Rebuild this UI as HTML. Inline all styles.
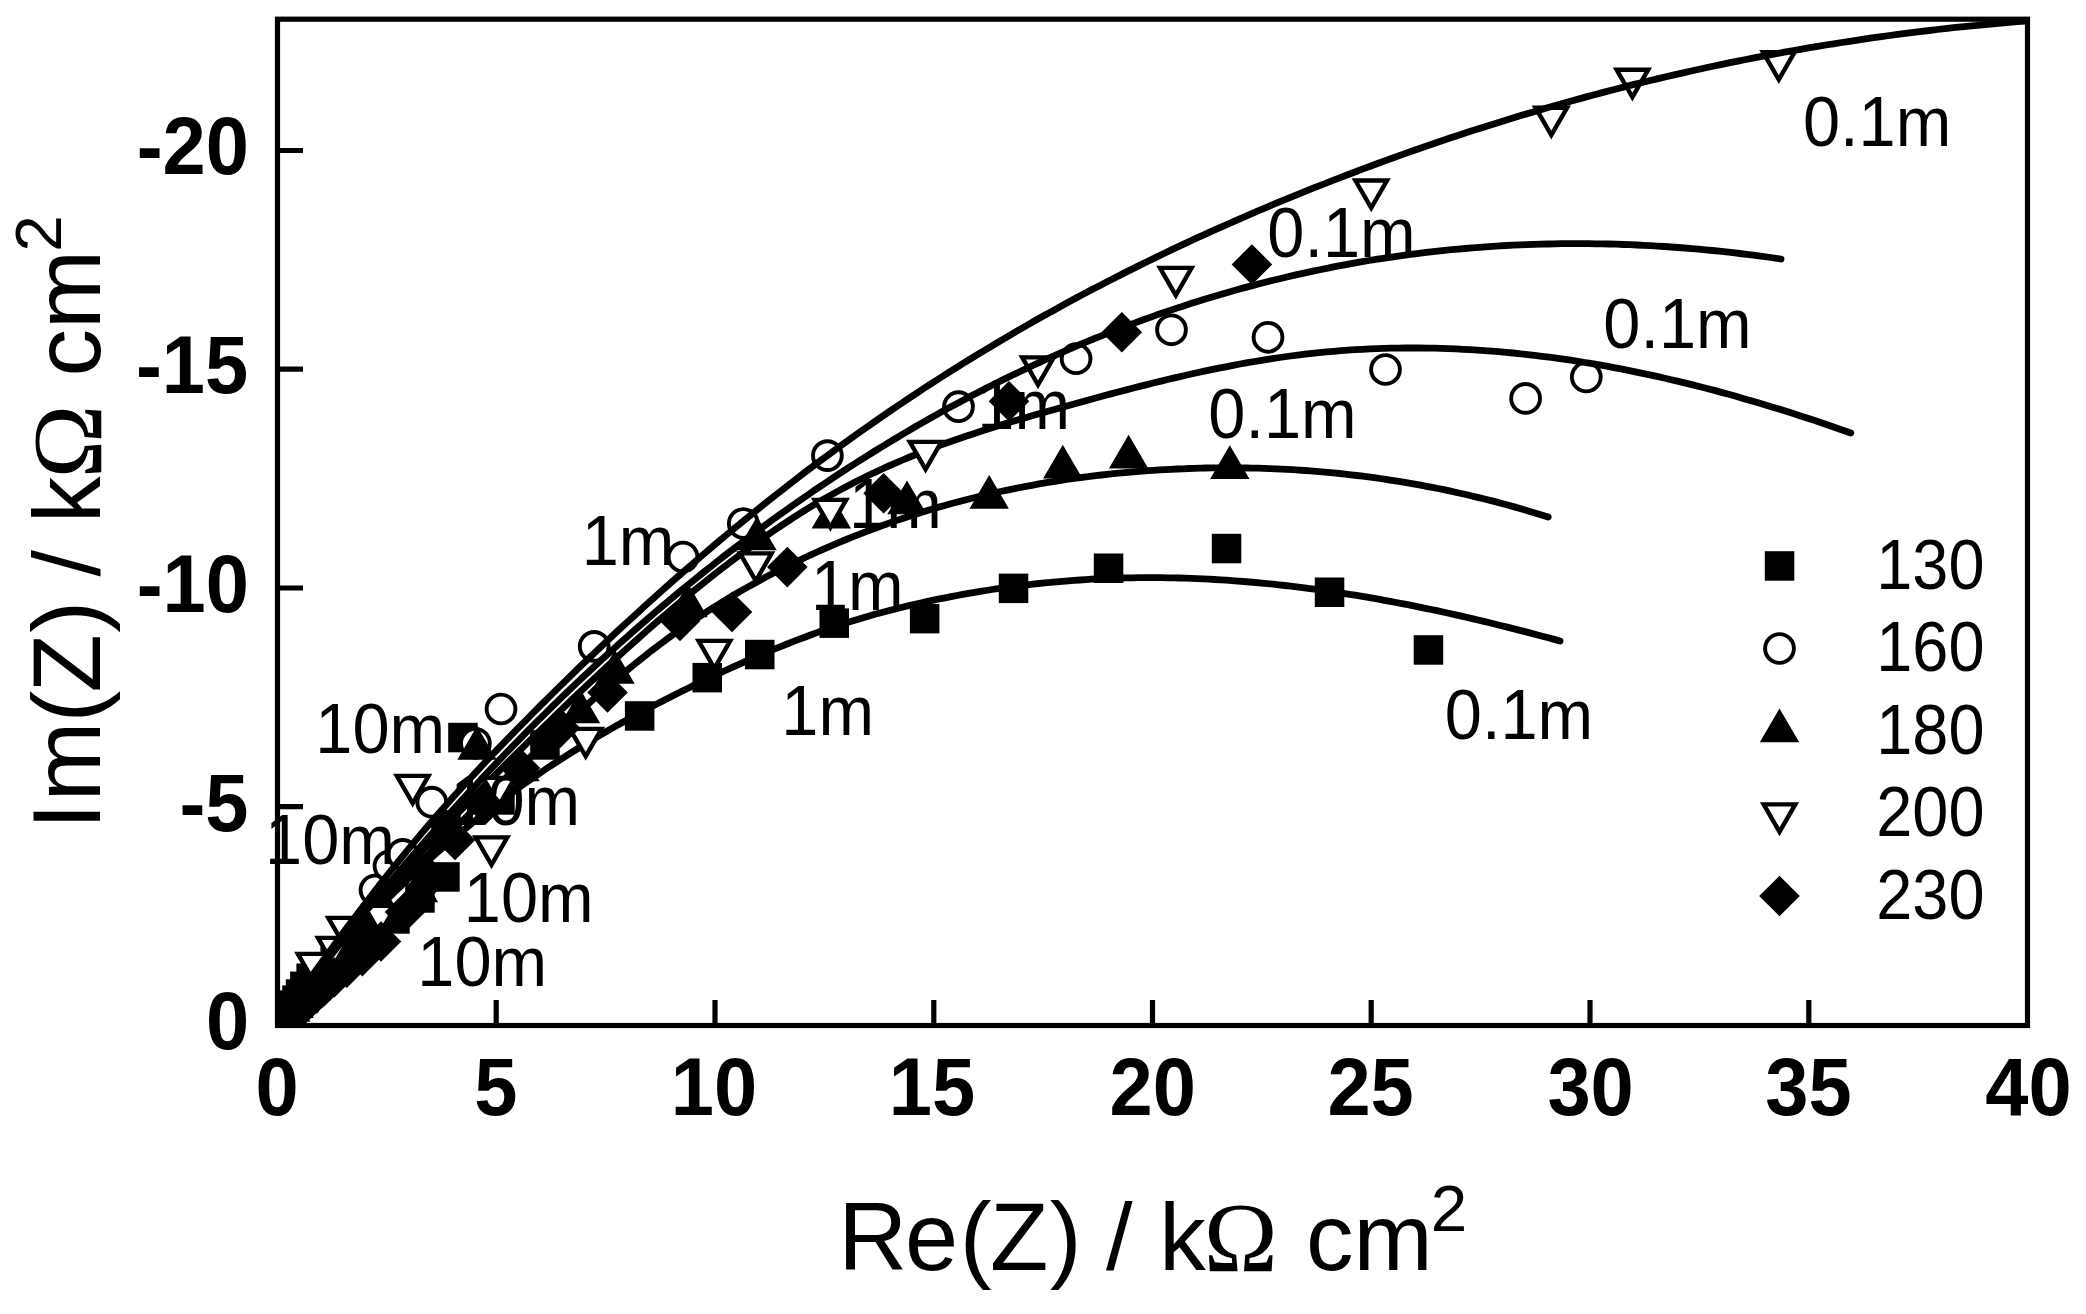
<!DOCTYPE html>
<html><head><meta charset="utf-8"><title>Nyquist plot</title>
<style>html,body{margin:0;padding:0;background:#fff;width:2086px;height:1314px;overflow:hidden}svg{display:block}text{font-family:"Liberation Sans",Arial,sans-serif;font-size:100px;fill:#000}.b{font-weight:bold}.o{font-family:"Liberation Serif","Times New Roman",serif}</style></head>
<body>
<svg width="2086" height="1314" viewBox="0 0 2086 1314">
<rect width="2086" height="1314" fill="#fff"/>
<defs><clipPath id="cp"><rect x="277.5" y="19.2" width="1750" height="1006.3"/></clipPath></defs>
<g clip-path="url(#cp)"><g fill="#000">
<rect x="263.6" y="1009.8" width="29.5" height="29.5"/><rect x="263.7" y="1009.6" width="29.5" height="29.5"/><rect x="263.9" y="1009.4" width="29.5" height="29.5"/><rect x="264.1" y="1009.1" width="29.5" height="29.5"/><rect x="264.4" y="1008.8" width="29.5" height="29.5"/><rect x="264.7" y="1008.4" width="29.5" height="29.5"/><rect x="265.1" y="1007.9" width="29.5" height="29.5"/><rect x="265.5" y="1007.3" width="29.5" height="29.5"/><rect x="266.1" y="1006.6" width="29.5" height="29.5"/><rect x="266.9" y="1005.7" width="29.5" height="29.5"/><rect x="267.7" y="1004.6" width="29.5" height="29.5"/><rect x="268.8" y="1003.3" width="29.5" height="29.5"/><rect x="270.1" y="1001.6" width="29.5" height="29.5"/><rect x="271.7" y="999.6" width="29.5" height="29.5"/><rect x="273.7" y="997.1" width="29.5" height="29.5"/><rect x="276.2" y="994.1" width="29.5" height="29.5"/><rect x="279.1" y="990.4" width="29.5" height="29.5"/><rect x="282.2" y="985.4" width="29.5" height="29.5"/><rect x="285.8" y="979.3" width="29.5" height="29.5"/><rect x="290.1" y="971.6" width="29.5" height="29.5"/><rect x="296.4" y="963.5" width="29.5" height="29.5"/><rect x="307.4" y="956.4" width="29.5" height="29.5"/><rect x="320.4" y="946.9" width="29.5" height="29.5"/><rect x="336.3" y="935.3" width="29.5" height="29.5"/><rect x="356" y="921.2" width="29.5" height="29.5"/><rect x="380.2" y="904.2" width="29.5" height="29.5"/><rect x="405.2" y="883.2" width="29.5" height="29.5"/><rect x="430.2" y="862.2" width="29.5" height="29.5"/><rect x="431.2" y="810.2" width="29.5" height="29.5"/><rect x="448.2" y="722.8" width="29.5" height="29.5"/><rect x="485.2" y="785.2" width="29.5" height="29.5"/><rect x="530.2" y="730.2" width="29.5" height="29.5"/><rect x="624.9" y="701.2" width="29.5" height="29.5"/><rect x="692.5" y="662.9" width="29.5" height="29.5"/><rect x="745" y="639.8" width="29.5" height="29.5"/><rect x="819.5" y="608.4" width="29.5" height="29.5"/><rect x="909.9" y="603.9" width="29.5" height="29.5"/><rect x="998.8" y="573.6" width="29.5" height="29.5"/><rect x="1093.8" y="553.5" width="29.5" height="29.5"/><rect x="1211.8" y="533.8" width="29.5" height="29.5"/><rect x="1314.8" y="577.5" width="29.5" height="29.5"/><rect x="1413.7" y="635.2" width="29.5" height="29.5"/>
</g>
<path d="M277.7 1025.3 L283.6 1017.7 L289.4 1010.2 L295.3 1002.7 L301.1 995.4 L307 988.2 L312.8 981.1 L318.7 974.1 L324.5 967.2 L330.4 960.4 L336.3 953.7 L342.1 947.1 L348 940.6 L353.8 934.2 L359.7 927.9 L365.5 921.7 L371.4 915.5 L377.2 909.5 L383.1 903.5 L388.9 897.6 L394.8 891.9 L400.7 886.2 L406.5 880.5 L412.4 875 L418.2 869.6 L424.1 864.2 L429.9 858.9 L435.8 853.7 L441.6 848.6 L447.5 843.5 L453.4 838.6 L459.2 833.7 L465.1 828.8 L470.9 824.1 L476.8 819.4 L482.6 814.8 L488.5 810.2 L494.3 805.7 L500.2 801.3 L506.1 797 L511.9 792.7 L517.8 788.5 L523.6 784.3 L529.5 780.2 L535.3 776.2 L541.2 772.2 L547 768.3 L552.9 764.4 L558.8 760.6 L564.6 756.9 L570.5 753.1 L576.3 749.5 L582.2 745.9 L588 742.3 L593.9 738.8 L599.7 735.4 L605.6 732 L611.4 728.6 L617.3 725.3 L623.2 722 L629 718.8 L634.9 715.6 L640.7 712.4 L646.6 709.3 L652.4 706.2 L658.3 703.2 L664.1 700.2 L670 697.2 L675.9 694.2 L681.7 691.3 L687.6 688.5 L693.4 685.6 L699.3 682.8 L705.1 680 L711 677.2 L716.8 674.5 L722.7 671.7 L728.6 669 L734.4 666.4 L740.3 663.8 L746.1 661.2 L752 658.6 L757.8 656.1 L763.7 653.6 L769.5 651.1 L775.4 648.7 L781.3 646.3 L787.1 644 L793 641.7 L798.8 639.4 L804.7 637.2 L810.5 635 L816.4 632.9 L822.2 630.8 L828.1 628.8 L833.9 626.8 L839.8 624.9 L845.7 623 L851.5 621.2 L857.4 619.4 L863.2 617.7 L869.1 616 L874.9 614.3 L880.8 612.7 L886.6 611.2 L892.5 609.7 L898.4 608.2 L904.2 606.8 L910.1 605.4 L915.9 604 L921.8 602.7 L927.6 601.4 L933.5 600.2 L939.3 598.9 L945.2 597.8 L951.1 596.6 L956.9 595.5 L962.8 594.4 L968.6 593.4 L974.5 592.4 L980.3 591.4 L986.2 590.5 L992 589.5 L997.9 588.7 L1003.8 587.8 L1009.6 587 L1015.5 586.3 L1021.3 585.5 L1027.2 584.8 L1033 584.1 L1038.9 583.5 L1044.7 582.9 L1050.6 582.3 L1056.4 581.8 L1062.3 581.3 L1068.2 580.8 L1074 580.4 L1079.9 580 L1085.7 579.6 L1091.6 579.2 L1097.4 578.9 L1103.3 578.7 L1109.1 578.4 L1115 578.2 L1120.9 578 L1126.7 577.9 L1132.6 577.8 L1138.4 577.7 L1144.3 577.7 L1150.1 577.6 L1156 577.7 L1161.8 577.7 L1167.7 577.8 L1173.6 577.9 L1179.4 578 L1185.3 578.2 L1191.1 578.4 L1197 578.6 L1202.8 578.9 L1208.7 579.2 L1214.5 579.5 L1220.4 579.9 L1226.3 580.2 L1232.1 580.6 L1238 581.1 L1243.8 581.5 L1249.7 582 L1255.5 582.5 L1261.4 583.1 L1267.2 583.6 L1273.1 584.2 L1278.9 584.9 L1284.8 585.5 L1290.7 586.2 L1296.5 586.9 L1302.4 587.6 L1308.2 588.4 L1314.1 589.1 L1319.9 589.9 L1325.8 590.8 L1331.6 591.6 L1337.5 592.5 L1343.4 593.4 L1349.2 594.3 L1355.1 595.2 L1360.9 596.2 L1366.8 597.2 L1372.6 598.2 L1378.5 599.2 L1384.3 600.3 L1390.2 601.4 L1396.1 602.5 L1401.9 603.6 L1407.8 604.7 L1413.6 605.9 L1419.5 607.1 L1425.3 608.3 L1431.2 609.5 L1437 610.7 L1442.9 612 L1448.8 613.3 L1454.6 614.6 L1460.5 615.9 L1466.3 617.2 L1472.2 618.6 L1478 620 L1483.9 621.4 L1489.7 622.8 L1495.6 624.2 L1501.4 625.7 L1507.3 627.1 L1513.2 628.6 L1519 630.1 L1524.9 631.6 L1530.7 633.1 L1536.6 634.7 L1542.4 636.2 L1548.3 637.8 L1554.1 639.4 L1560 641" fill="none" stroke="#000" stroke-width="6.8" stroke-linecap="round" stroke-linejoin="round"/></g>
<g><text class="r" transform="matrix(0.6670 0 0 0.6965 1444.8 738.5)">0.1m</text><text class="r" transform="matrix(0.6670 0 0 0.6965 781.3 735)">1m</text><text class="r" transform="matrix(0.6670 0 0 0.6965 463.8 922)">10m</text></g>
<g clip-path="url(#cp)"><g fill="#fff" stroke="#000" stroke-width="3.9">
<circle cx="278.4" cy="1024.6" r="14.4"/><circle cx="278.6" cy="1024.4" r="14.4"/><circle cx="278.9" cy="1024.1" r="14.4"/><circle cx="279.3" cy="1023.8" r="14.4"/><circle cx="279.8" cy="1023.3" r="14.4"/><circle cx="280.4" cy="1022.7" r="14.4"/><circle cx="281.3" cy="1021.9" r="14.4"/><circle cx="282.4" cy="1020.8" r="14.4"/><circle cx="283.8" cy="1019.5" r="14.4"/><circle cx="285.6" cy="1017.7" r="14.4"/><circle cx="288.1" cy="1015.4" r="14.4"/><circle cx="291.2" cy="1012.4" r="14.4"/><circle cx="295.4" cy="1008.4" r="14.4"/><circle cx="300.8" cy="1003.3" r="14.4"/><circle cx="307.9" cy="996.8" r="14.4"/><circle cx="317.3" cy="988.3" r="14.4"/><circle cx="329.4" cy="976.9" r="14.4"/><circle cx="345" cy="962" r="14.4"/><circle cx="375" cy="890" r="14.4"/><circle cx="389" cy="866" r="14.4"/><circle cx="402.8" cy="854.4" r="14.4"/><circle cx="431.8" cy="802.2" r="14.4"/><circle cx="475.4" cy="743.3" r="14.4"/><circle cx="501" cy="709" r="14.4"/><circle cx="594.2" cy="646.4" r="14.4"/><circle cx="683" cy="557" r="14.4"/><circle cx="743.3" cy="523.5" r="14.4"/><circle cx="827.4" cy="455.6" r="14.4"/><circle cx="958.5" cy="406.7" r="14.4"/><circle cx="1076.1" cy="358.7" r="14.4"/><circle cx="1171.5" cy="329.8" r="14.4"/><circle cx="1268" cy="337.3" r="14.4"/><circle cx="1385.5" cy="369.5" r="14.4"/><circle cx="1525.6" cy="398.4" r="14.4"/><circle cx="1586.3" cy="377" r="14.4"/>
</g>
<path d="M277.7 1025.3 L284.9 1015.8 L292.1 1006.4 L299.2 997.1 L306.4 987.9 L313.6 978.8 L320.8 969.8 L328 960.9 L335.2 952 L342.3 943.3 L349.5 934.6 L356.7 926 L363.9 917.5 L371.1 909.1 L378.3 900.8 L385.4 892.5 L392.6 884.3 L399.8 876.2 L407 868.2 L414.2 860.2 L421.4 852.3 L428.5 844.5 L435.7 836.8 L442.9 829.1 L450.1 821.5 L457.3 813.9 L464.5 806.4 L471.6 799 L478.8 791.6 L486 784.3 L493.2 777 L500.4 769.7 L507.6 762.5 L514.7 755.4 L521.9 748.3 L529.1 741.2 L536.3 734.1 L543.5 727.1 L550.7 720.1 L557.8 713.1 L565 706.2 L572.2 699.3 L579.4 692.5 L586.6 685.7 L593.8 679 L600.9 672.3 L608.1 665.6 L615.3 659 L622.5 652.5 L629.7 646 L636.9 639.6 L644 633.2 L651.2 626.9 L658.4 620.7 L665.6 614.5 L672.8 608.4 L680 602.3 L687.1 596.3 L694.3 590.4 L701.5 584.6 L708.7 578.9 L715.9 573.2 L723.1 567.6 L730.2 562.1 L737.4 556.7 L744.6 551.4 L751.8 546.1 L759 541 L766.2 535.9 L773.3 531 L780.5 526.1 L787.7 521.4 L794.9 516.7 L802.1 512.2 L809.2 507.7 L816.4 503.4 L823.6 499.2 L830.8 495.1 L838 491.1 L845.2 487.2 L852.3 483.5 L859.5 479.8 L866.7 476.3 L873.9 472.8 L881.1 469.5 L888.3 466.2 L895.4 463.1 L902.6 460 L909.8 457 L917 454.1 L924.2 451.3 L931.4 448.5 L938.5 445.8 L945.7 443.2 L952.9 440.7 L960.1 438.2 L967.3 435.7 L974.5 433.4 L981.6 431 L988.8 428.7 L996 426.5 L1003.2 424.3 L1010.4 422.1 L1017.6 420 L1024.7 417.9 L1031.9 415.8 L1039.1 413.7 L1046.3 411.7 L1053.5 409.7 L1060.7 407.7 L1067.8 405.7 L1075 403.7 L1082.2 401.7 L1089.4 399.7 L1096.6 397.8 L1103.8 395.8 L1110.9 393.9 L1118.1 392 L1125.3 390.1 L1132.5 388.2 L1139.7 386.4 L1146.9 384.6 L1154 382.8 L1161.2 381.1 L1168.4 379.3 L1175.6 377.6 L1182.8 376 L1190 374.3 L1197.1 372.7 L1204.3 371.2 L1211.5 369.7 L1218.7 368.2 L1225.9 366.8 L1233.1 365.4 L1240.2 364 L1247.4 362.7 L1254.6 361.5 L1261.8 360.3 L1269 359.1 L1276.2 358 L1283.3 357 L1290.5 356 L1297.7 355.1 L1304.9 354.2 L1312.1 353.4 L1319.3 352.6 L1326.4 351.9 L1333.6 351.3 L1340.8 350.7 L1348 350.2 L1355.2 349.7 L1362.3 349.3 L1369.5 348.9 L1376.7 348.6 L1383.9 348.4 L1391.1 348.2 L1398.3 348.1 L1405.4 348 L1412.6 348 L1419.8 348 L1427 348.1 L1434.2 348.2 L1441.4 348.4 L1448.5 348.6 L1455.7 348.9 L1462.9 349.3 L1470.1 349.7 L1477.3 350.1 L1484.5 350.6 L1491.6 351.1 L1498.8 351.7 L1506 352.4 L1513.2 353 L1520.4 353.8 L1527.6 354.6 L1534.7 355.4 L1541.9 356.3 L1549.1 357.2 L1556.3 358.2 L1563.5 359.2 L1570.7 360.2 L1577.8 361.4 L1585 362.5 L1592.2 363.7 L1599.4 364.9 L1606.6 366.2 L1613.8 367.6 L1620.9 368.9 L1628.1 370.3 L1635.3 371.8 L1642.5 373.3 L1649.7 374.8 L1656.9 376.4 L1664 378 L1671.2 379.7 L1678.4 381.4 L1685.6 383.1 L1692.8 384.9 L1700 386.7 L1707.1 388.5 L1714.3 390.4 L1721.5 392.4 L1728.7 394.3 L1735.9 396.3 L1743.1 398.4 L1750.2 400.4 L1757.4 402.5 L1764.6 404.7 L1771.8 406.9 L1779 409.1 L1786.2 411.3 L1793.3 413.6 L1800.5 415.9 L1807.7 418.3 L1814.9 420.6 L1822.1 423 L1829.3 425.5 L1836.4 428 L1843.6 430.5 L1850.8 433" fill="none" stroke="#000" stroke-width="6.8" stroke-linecap="round" stroke-linejoin="round"/></g>
<g><text class="r" transform="matrix(0.6670 0 0 0.6965 1603.3 348.3)">0.1m</text><text class="r" transform="matrix(0.6670 0 0 0.6965 581.7 564.6)">1m</text><text class="r" transform="matrix(0.6670 0 0 0.6965 265.1 864)">10m</text></g>
<g clip-path="url(#cp)"><g fill="#000">
<polygon points="278.4,1002.1 258.7,1035.7 298.1,1035.7"/><polygon points="278.5,1002 258.8,1035.6 298.2,1035.6"/><polygon points="278.7,1001.7 259,1035.3 298.4,1035.3"/><polygon points="279,1001.4 259.3,1035 298.7,1035"/><polygon points="279.4,1001 259.7,1034.6 299.1,1034.6"/><polygon points="279.8,1000.5 260.1,1034.1 299.5,1034.1"/><polygon points="280.3,999.9 260.6,1033.5 300,1033.5"/><polygon points="281,999.2 261.3,1032.8 300.7,1032.8"/><polygon points="281.8,998.2 262.1,1031.8 301.5,1031.8"/><polygon points="282.9,997 263.2,1030.6 302.6,1030.6"/><polygon points="284.2,995.5 264.5,1029.1 303.9,1029.1"/><polygon points="285.9,993.6 266.2,1027.2 305.6,1027.2"/><polygon points="288,991.2 268.3,1024.8 307.7,1024.8"/><polygon points="290.7,988.1 271,1021.7 310.4,1021.7"/><polygon points="294.1,984.3 274.4,1017.9 313.8,1017.9"/><polygon points="298.3,979.6 278.6,1013.2 318,1013.2"/><polygon points="303.9,973.9 284.2,1007.5 323.6,1007.5"/><polygon points="311.2,966.9 291.5,1000.5 330.9,1000.5"/><polygon points="320.4,958.2 300.7,991.8 340.1,991.8"/><polygon points="332,947.2 312.3,980.8 351.7,980.8"/><polygon points="346.6,933.5 326.9,967.1 366.3,967.1"/><polygon points="365.1,916.4 345.4,950 384.8,950"/><polygon points="388.5,895 368.8,928.6 408.2,928.6"/><polygon points="418.4,868.6 398.7,902.2 438.1,902.2"/><polygon points="440,815.6 420.3,849.2 459.7,849.2"/><polygon points="477,726.1 457.3,759.7 496.7,759.7"/><polygon points="520,747.6 500.3,781.2 539.7,781.2"/><polygon points="580.5,689.6 560.8,723.2 600.2,723.2"/><polygon points="615,650.1 595.3,683.7 634.7,683.7"/><polygon points="688,583.6 668.3,617.2 707.7,617.2"/><polygon points="757,516.6 737.3,550.2 776.7,550.2"/><polygon points="831.3,494.9 811.6,528.5 851,528.5"/><polygon points="907,480.6 887.3,514.2 926.7,514.2"/><polygon points="989.2,475.1 969.5,508.7 1008.9,508.7"/><polygon points="1062.8,444.8 1043.1,478.4 1082.5,478.4"/><polygon points="1128.6,434.8 1108.9,468.4 1148.3,468.4"/><polygon points="1229.8,445.3 1210.1,478.9 1249.5,478.9"/>
</g>
<path d="M277.7 1025.3 L283.5 1018.2 L289.3 1011.1 L295.1 1004 L300.9 997 L306.7 990 L312.5 983 L318.3 976.1 L324.1 969.3 L329.9 962.5 L335.7 955.7 L341.5 949 L347.3 942.3 L353.1 935.7 L358.9 929.1 L364.7 922.5 L370.5 916.1 L376.3 909.6 L382.1 903.3 L387.9 896.9 L393.7 890.7 L399.5 884.5 L405.3 878.3 L411.1 872.2 L416.9 866.2 L422.7 860.2 L428.5 854.3 L434.3 848.4 L440.1 842.6 L445.9 836.8 L451.7 831.1 L457.5 825.5 L463.3 819.9 L469.1 814.3 L474.9 808.7 L480.7 803.2 L486.5 797.7 L492.4 792.3 L498.2 786.8 L504 781.4 L509.8 776 L515.6 770.6 L521.4 765.2 L527.2 759.9 L533 754.5 L538.8 749.1 L544.6 743.7 L550.4 738.4 L556.2 733 L562 727.7 L567.8 722.4 L573.6 717.1 L579.4 711.8 L585.2 706.6 L591 701.4 L596.8 696.3 L602.6 691.2 L608.4 686.2 L614.2 681.2 L620 676.3 L625.8 671.4 L631.6 666.6 L637.4 661.9 L643.2 657.3 L649 652.7 L654.8 648.3 L660.6 643.9 L666.4 639.6 L672.2 635.3 L678 631.2 L683.8 627.1 L689.6 623.1 L695.4 619.2 L701.2 615.4 L707 611.6 L712.8 607.9 L718.6 604.3 L724.4 600.7 L730.2 597.2 L736 593.8 L741.8 590.4 L747.6 587.1 L753.4 583.9 L759.2 580.7 L765 577.6 L770.8 574.5 L776.6 571.5 L782.4 568.6 L788.2 565.7 L794 562.9 L799.8 560.1 L805.6 557.3 L811.4 554.6 L817.2 552 L823 549.4 L828.8 546.9 L834.6 544.4 L840.4 541.9 L846.2 539.5 L852 537.1 L857.8 534.8 L863.6 532.6 L869.4 530.3 L875.2 528.2 L881 526 L886.8 524 L892.6 521.9 L898.4 519.9 L904.2 518 L910 516 L915.9 514.2 L921.7 512.3 L927.5 510.6 L933.3 508.8 L939.1 507.1 L944.9 505.5 L950.7 503.8 L956.5 502.3 L962.3 500.7 L968.1 499.2 L973.9 497.8 L979.7 496.3 L985.5 495 L991.3 493.6 L997.1 492.3 L1002.9 491 L1008.7 489.8 L1014.5 488.6 L1020.3 487.5 L1026.1 486.3 L1031.9 485.3 L1037.7 484.2 L1043.5 483.2 L1049.3 482.2 L1055.1 481.3 L1060.9 480.4 L1066.7 479.5 L1072.5 478.7 L1078.3 477.9 L1084.1 477.1 L1089.9 476.4 L1095.7 475.6 L1101.5 475 L1107.3 474.3 L1113.1 473.7 L1118.9 473.1 L1124.7 472.6 L1130.5 472.1 L1136.3 471.6 L1142.1 471.1 L1147.9 470.7 L1153.7 470.3 L1159.5 469.9 L1165.3 469.6 L1171.1 469.3 L1176.9 469 L1182.7 468.8 L1188.5 468.5 L1194.3 468.3 L1200.1 468.2 L1205.9 468 L1211.7 467.9 L1217.5 467.9 L1223.3 467.8 L1229.1 467.8 L1234.9 467.8 L1240.7 467.9 L1246.5 468 L1252.3 468.1 L1258.1 468.2 L1263.9 468.4 L1269.7 468.6 L1275.5 468.8 L1281.3 469.1 L1287.1 469.4 L1292.9 469.7 L1298.7 470.1 L1304.5 470.5 L1310.3 470.9 L1316.1 471.4 L1321.9 471.9 L1327.7 472.4 L1333.5 472.9 L1339.4 473.5 L1345.2 474.1 L1351 474.8 L1356.8 475.5 L1362.6 476.2 L1368.4 476.9 L1374.2 477.7 L1380 478.5 L1385.8 479.4 L1391.6 480.3 L1397.4 481.2 L1403.2 482.1 L1409 483.1 L1414.8 484.1 L1420.6 485.2 L1426.4 486.3 L1432.2 487.4 L1438 488.5 L1443.8 489.7 L1449.6 490.9 L1455.4 492.2 L1461.2 493.5 L1467 494.8 L1472.8 496.2 L1478.6 497.6 L1484.4 499 L1490.2 500.4 L1496 501.9 L1501.8 503.5 L1507.6 505 L1513.4 506.6 L1519.2 508.3 L1525 510 L1530.8 511.7 L1536.6 513.4 L1542.4 515.2 L1548.2 517" fill="none" stroke="#000" stroke-width="6.8" stroke-linecap="round" stroke-linejoin="round"/></g>
<g><text class="r" transform="matrix(0.6670 0 0 0.6965 1208.3 437.8)">0.1m</text><text class="r" transform="matrix(0.6670 0 0 0.6965 849.1 528.2)">1m</text><text class="r" transform="matrix(0.6670 0 0 0.6965 315.3 752.8)">10m</text></g>
<g clip-path="url(#cp)"><g fill="#fff" stroke="#000" stroke-width="4.4" stroke-linejoin="miter">
<polygon points="262.7,1015.5 294.3,1015.5 278.5,1042.9"/><polygon points="263,1015.3 294.6,1015.3 278.8,1042.7"/><polygon points="263.5,1014.9 295.1,1014.9 279.3,1042.3"/><polygon points="264.1,1014.3 295.7,1014.3 279.9,1041.7"/><polygon points="265.1,1013.4 296.7,1013.4 280.9,1040.8"/><polygon points="266.5,1012.2 298.1,1012.2 282.3,1039.6"/><polygon points="268.5,1010.5 300.1,1010.5 284.3,1037.9"/><polygon points="271.4,1008 303,1008 287.2,1035.4"/><polygon points="275.6,1004.4 307.2,1004.4 291.4,1031.8"/><polygon points="281.5,999.2 313.1,999.2 297.3,1026.6"/><polygon points="290,991.7 321.6,991.7 305.8,1019.1"/><polygon points="302.2,980.9 333.8,980.9 318,1008.3"/><polygon points="297.9,953.9 329.5,953.9 313.7,981.3"/><polygon points="318,937.9 349.6,937.9 333.8,965.3"/><polygon points="328.3,917.9 359.9,917.9 344.1,945.3"/><polygon points="364.2,905.9 395.8,905.9 380,933.3"/><polygon points="396.9,775.9 428.5,775.9 412.7,803.3"/><polygon points="475.7,837.4 507.3,837.4 491.5,864.8"/><polygon points="483.2,777.9 514.8,777.9 499,805.3"/><polygon points="569.9,728.9 601.5,728.9 585.7,756.3"/><polygon points="698.6,640.9 730.2,640.9 714.4,668.3"/><polygon points="740,553.4 771.6,553.4 755.8,580.8"/><polygon points="814.6,499.9 846.2,499.9 830.4,527.3"/><polygon points="909.8,441.9 941.4,441.9 925.6,469.3"/><polygon points="1022.2,357.4 1053.8,357.4 1038,384.8"/><polygon points="1160,267.9 1191.6,267.9 1175.8,295.3"/><polygon points="1355.4,180.5 1387,180.5 1371.2,207.9"/><polygon points="1535.5,107.7 1567.1,107.7 1551.3,135.1"/><polygon points="1616.6,69.7 1648.2,69.7 1632.4,97.1"/><polygon points="1763,52.2 1794.6,52.2 1778.8,79.6"/>
</g>
<path d="M277.7 1025.3 L285.7 1013.6 L293.7 1002 L301.6 990.6 L309.6 979.2 L317.6 968 L325.6 956.9 L333.6 945.9 L341.5 935 L349.5 924.3 L357.5 913.7 L365.5 903.2 L373.5 892.8 L381.4 882.6 L389.4 872.5 L397.4 862.6 L405.4 852.8 L413.4 843.1 L421.3 833.6 L429.3 824.3 L437.3 815 L445.3 806 L453.2 797 L461.2 788.2 L469.2 779.5 L477.2 770.9 L485.2 762.3 L493.1 753.9 L501.1 745.6 L509.1 737.3 L517.1 729.2 L525.1 721.1 L533 713 L541 705 L549 697.1 L557 689.2 L565 681.3 L572.9 673.6 L580.9 665.8 L588.9 658.2 L596.9 650.6 L604.9 643 L612.8 635.5 L620.8 628.1 L628.8 620.7 L636.8 613.4 L644.8 606.1 L652.7 598.9 L660.7 591.7 L668.7 584.6 L676.7 577.6 L684.7 570.6 L692.6 563.7 L700.6 556.8 L708.6 550 L716.6 543.2 L724.5 536.5 L732.5 529.9 L740.5 523.3 L748.5 516.8 L756.5 510.3 L764.4 503.9 L772.4 497.6 L780.4 491.3 L788.4 485.1 L796.4 478.9 L804.3 472.8 L812.3 466.8 L820.3 460.8 L828.3 454.9 L836.3 449 L844.2 443.2 L852.2 437.5 L860.2 431.8 L868.2 426.2 L876.2 420.6 L884.1 415.1 L892.1 409.6 L900.1 404.2 L908.1 398.9 L916.1 393.6 L924 388.3 L932 383.1 L940 378 L948 372.9 L956 367.9 L963.9 362.9 L971.9 358 L979.9 353.1 L987.9 348.3 L995.9 343.5 L1003.8 338.8 L1011.8 334.1 L1019.8 329.4 L1027.8 324.9 L1035.7 320.3 L1043.7 315.8 L1051.7 311.4 L1059.7 307 L1067.7 302.6 L1075.6 298.3 L1083.6 294.1 L1091.6 289.8 L1099.6 285.7 L1107.6 281.5 L1115.5 277.4 L1123.5 273.4 L1131.5 269.4 L1139.5 265.4 L1147.5 261.5 L1155.4 257.6 L1163.4 253.7 L1171.4 249.9 L1179.4 246.1 L1187.4 242.4 L1195.3 238.7 L1203.3 235.1 L1211.3 231.4 L1219.3 227.8 L1227.3 224.3 L1235.2 220.8 L1243.2 217.3 L1251.2 213.9 L1259.2 210.4 L1267.2 207.1 L1275.1 203.7 L1283.1 200.4 L1291.1 197.1 L1299.1 193.9 L1307 190.6 L1315 187.4 L1323 184.3 L1331 181.2 L1339 178.1 L1346.9 175 L1354.9 172 L1362.9 168.9 L1370.9 166 L1378.9 163 L1386.8 160.1 L1394.8 157.2 L1402.8 154.4 L1410.8 151.5 L1418.8 148.7 L1426.7 146 L1434.7 143.2 L1442.7 140.5 L1450.7 137.8 L1458.7 135.2 L1466.6 132.6 L1474.6 130 L1482.6 127.4 L1490.6 124.9 L1498.6 122.4 L1506.5 119.9 L1514.5 117.5 L1522.5 115.1 L1530.5 112.7 L1538.5 110.4 L1546.4 108 L1554.4 105.8 L1562.4 103.5 L1570.4 101.3 L1578.4 99.1 L1586.3 96.9 L1594.3 94.7 L1602.3 92.6 L1610.3 90.5 L1618.2 88.5 L1626.2 86.4 L1634.2 84.4 L1642.2 82.5 L1650.2 80.5 L1658.1 78.6 L1666.1 76.7 L1674.1 74.9 L1682.1 73.1 L1690.1 71.3 L1698 69.5 L1706 67.7 L1714 66 L1722 64.4 L1730 62.7 L1737.9 61.1 L1745.9 59.5 L1753.9 57.9 L1761.9 56.4 L1769.9 54.8 L1777.8 53.4 L1785.8 51.9 L1793.8 50.5 L1801.8 49.1 L1809.8 47.7 L1817.7 46.4 L1825.7 45 L1833.7 43.8 L1841.7 42.5 L1849.7 41.3 L1857.6 40.1 L1865.6 38.9 L1873.6 37.7 L1881.6 36.6 L1889.5 35.5 L1897.5 34.4 L1905.5 33.4 L1913.5 32.4 L1921.5 31.4 L1929.4 30.5 L1937.4 29.5 L1945.4 28.6 L1953.4 27.7 L1961.4 26.9 L1969.3 26.1 L1977.3 25.3 L1985.3 24.5 L1993.3 23.8 L2001.3 23.1 L2009.2 22.4 L2017.2 21.7 L2025.2 21.1" fill="none" stroke="#000" stroke-width="6.8" stroke-linecap="round" stroke-linejoin="round"/></g>
<g><text class="r" transform="matrix(0.6670 0 0 0.6965 1803 146)">0.1m</text><text class="r" transform="matrix(0.6670 0 0 0.6965 810.9 609.8)">1m</text><text class="r" transform="matrix(0.6670 0 0 0.6965 450.3 825.3)">10m</text></g>
<g clip-path="url(#cp)"><g fill="#000">
<polygon points="278.5,1004.4 298.8,1024.7 278.5,1045 258.2,1024.7"/><polygon points="278.7,1004.3 299,1024.6 278.7,1044.9 258.4,1024.6"/><polygon points="278.9,1004.1 299.2,1024.4 278.9,1044.7 258.6,1024.4"/><polygon points="279.1,1003.9 299.4,1024.2 279.1,1044.5 258.8,1024.2"/><polygon points="279.4,1003.7 299.7,1024 279.4,1044.3 259.1,1024"/><polygon points="279.8,1003.4 300.1,1023.7 279.8,1044 259.5,1023.7"/><polygon points="280.3,1003 300.6,1023.3 280.3,1043.6 260,1023.3"/><polygon points="280.8,1002.6 301.1,1022.9 280.8,1043.2 260.5,1022.9"/><polygon points="281.5,1002.1 301.8,1022.4 281.5,1042.7 261.2,1022.4"/><polygon points="282.3,1001.4 302.6,1021.7 282.3,1042 262,1021.7"/><polygon points="283.3,1000.7 303.6,1021 283.3,1041.3 263,1021"/><polygon points="284.5,999.7 304.8,1020 284.5,1040.3 264.2,1020"/><polygon points="286,998.6 306.3,1018.9 286,1039.2 265.7,1018.9"/><polygon points="287.8,997.2 308.1,1017.5 287.8,1037.8 267.5,1017.5"/><polygon points="289.9,995.5 310.2,1015.8 289.9,1036.1 269.6,1015.8"/><polygon points="292.6,993.5 312.9,1013.8 292.6,1034.1 272.3,1013.8"/><polygon points="295.8,991 316.1,1011.3 295.8,1031.6 275.5,1011.3"/><polygon points="299.7,987.9 320,1008.2 299.7,1028.5 279.4,1008.2"/><polygon points="304.2,983.9 324.5,1004.2 304.2,1024.5 283.9,1004.2"/><polygon points="309.6,979.1 329.9,999.4 309.6,1019.7 289.3,999.4"/><polygon points="316.2,973.1 336.5,993.4 316.2,1013.7 295.9,993.4"/><polygon points="324.3,965.9 344.6,986.2 324.3,1006.5 304,986.2"/><polygon points="334.2,957.2 354.5,977.5 334.2,997.8 313.9,977.5"/><polygon points="346.8,947.4 367.1,967.7 346.8,988 326.5,967.7"/><polygon points="362.4,935.8 382.7,956.1 362.4,976.4 342.1,956.1"/><polygon points="381,921.2 401.3,941.5 381,961.8 360.7,941.5"/><polygon points="405,891.7 425.3,912 405,932.3 384.7,912"/><polygon points="430,857.7 450.3,878 430,898.3 409.7,878"/><polygon points="455,819.7 475.3,840 455,860.3 434.7,840"/><polygon points="485,784.7 505.3,805 485,825.3 464.7,805"/><polygon points="520,747.7 540.3,768 520,788.3 499.7,768"/><polygon points="560,707.7 580.3,728 560,748.3 539.7,728"/><polygon points="607.5,672.2 627.8,692.5 607.5,712.8 587.2,692.5"/><polygon points="680,600.7 700.3,621 680,641.3 659.7,621"/><polygon points="732,591.7 752.3,612 732,632.3 711.7,612"/><polygon points="787.3,546.8 807.6,567.1 787.3,587.4 767,567.1"/><polygon points="883.6,473 903.9,493.3 883.6,513.6 863.3,493.3"/><polygon points="1009,380.9 1029.3,401.2 1009,421.5 988.7,401.2"/><polygon points="1121.8,312 1142.1,332.3 1121.8,352.6 1101.5,332.3"/><polygon points="1251.9,244.2 1272.2,264.5 1251.9,284.8 1231.6,264.5"/>
</g>
<path d="M277.7 1025.3 L284.6 1016 L291.4 1006.8 L298.3 997.7 L305.2 988.6 L312 979.7 L318.9 970.7 L325.8 961.9 L332.6 953.1 L339.5 944.4 L346.3 935.7 L353.2 927.2 L360.1 918.7 L366.9 910.2 L373.8 901.8 L380.7 893.5 L387.5 885.3 L394.4 877.1 L401.3 869 L408.1 860.9 L415 853 L421.9 845 L428.7 837.2 L435.6 829.4 L442.4 821.7 L449.3 814 L456.2 806.4 L463 798.9 L469.9 791.4 L476.8 784 L483.6 776.6 L490.5 769.4 L497.4 762.1 L504.2 755 L511.1 747.9 L518 740.8 L524.8 733.8 L531.7 726.9 L538.5 720.1 L545.4 713.3 L552.3 706.5 L559.1 699.8 L566 693.2 L572.9 686.6 L579.7 680.1 L586.6 673.7 L593.5 667.3 L600.3 660.9 L607.2 654.7 L614.1 648.4 L620.9 642.3 L627.8 636.2 L634.6 630.1 L641.5 624.1 L648.4 618.2 L655.2 612.3 L662.1 606.4 L669 600.7 L675.8 594.9 L682.7 589.2 L689.6 583.6 L696.4 578.1 L703.3 572.5 L710.2 567.1 L717 561.7 L723.9 556.3 L730.7 551 L737.6 545.8 L744.5 540.5 L751.3 535.4 L758.2 530.3 L765.1 525.2 L771.9 520.2 L778.8 515.3 L785.7 510.4 L792.5 505.5 L799.4 500.7 L806.3 496 L813.1 491.2 L820 486.6 L826.9 482 L833.7 477.4 L840.6 472.9 L847.4 468.4 L854.3 464 L861.2 459.6 L868 455.3 L874.9 451 L881.8 446.8 L888.6 442.6 L895.5 438.5 L902.4 434.4 L909.2 430.3 L916.1 426.3 L923 422.4 L929.8 418.5 L936.7 414.6 L943.5 410.8 L950.4 407.1 L957.3 403.4 L964.1 399.7 L971 396.1 L977.9 392.5 L984.7 388.9 L991.6 385.5 L998.5 382 L1005.3 378.6 L1012.2 375.3 L1019.1 372 L1025.9 368.7 L1032.8 365.5 L1039.6 362.3 L1046.5 359.2 L1053.4 356.1 L1060.2 353.1 L1067.1 350.1 L1074 347.1 L1080.8 344.2 L1087.7 341.4 L1094.6 338.5 L1101.4 335.8 L1108.3 333 L1115.2 330.4 L1122 327.7 L1128.9 325.1 L1135.7 322.6 L1142.6 320 L1149.5 317.6 L1156.3 315.1 L1163.2 312.8 L1170.1 310.4 L1176.9 308.1 L1183.8 305.9 L1190.7 303.6 L1197.5 301.5 L1204.4 299.3 L1211.3 297.3 L1218.1 295.2 L1225 293.2 L1231.8 291.2 L1238.7 289.3 L1245.6 287.4 L1252.4 285.6 L1259.3 283.8 L1266.2 282 L1273 280.3 L1279.9 278.7 L1286.8 277 L1293.6 275.4 L1300.5 273.9 L1307.4 272.4 L1314.2 270.9 L1321.1 269.5 L1328 268.1 L1334.8 266.7 L1341.7 265.4 L1348.5 264.1 L1355.4 262.9 L1362.3 261.7 L1369.1 260.5 L1376 259.4 L1382.9 258.4 L1389.7 257.3 L1396.6 256.3 L1403.5 255.4 L1410.3 254.4 L1417.2 253.6 L1424.1 252.7 L1430.9 251.9 L1437.8 251.1 L1444.6 250.4 L1451.5 249.7 L1458.4 249.1 L1465.2 248.5 L1472.1 247.9 L1479 247.3 L1485.8 246.8 L1492.7 246.4 L1499.6 245.9 L1506.4 245.5 L1513.3 245.2 L1520.2 244.9 L1527 244.6 L1533.9 244.3 L1540.7 244.1 L1547.6 244 L1554.5 243.8 L1561.3 243.7 L1568.2 243.7 L1575.1 243.6 L1581.9 243.7 L1588.8 243.7 L1595.7 243.8 L1602.5 243.9 L1609.4 244 L1616.3 244.2 L1623.1 244.5 L1630 244.7 L1636.8 245 L1643.7 245.3 L1650.6 245.7 L1657.4 246.1 L1664.3 246.5 L1671.2 247 L1678 247.5 L1684.9 248 L1691.8 248.6 L1698.6 249.2 L1705.5 249.8 L1712.4 250.5 L1719.2 251.2 L1726.1 251.9 L1732.9 252.7 L1739.8 253.5 L1746.7 254.3 L1753.5 255.2 L1760.4 256.1 L1767.3 257 L1774.1 258 L1781 259" fill="none" stroke="#000" stroke-width="6.8" stroke-linecap="round" stroke-linejoin="round"/></g>
<g><text class="r" transform="matrix(0.6670 0 0 0.6965 1267.3 257)">0.1m</text><text class="r" transform="matrix(0.6670 0 0 0.6965 977.3 429)">1m</text><text class="r" transform="matrix(0.6670 0 0 0.6965 417.3 985.6)">10m</text></g>
<rect x="277.5" y="19.2" width="1750" height="1006.3" fill="none" stroke="#000" stroke-width="5.2"/>
<path d="M496.2 1025.5 V1000 M715 1025.5 V1000 M933.8 1025.5 V1000 M1152.5 1025.5 V1000 M1371.2 1025.5 V1000 M1590 1025.5 V1000 M1808.8 1025.5 V1000 M277.5 806.7 H303 M277.5 588 H303 M277.5 369.2 H303 M277.5 150.5 H303" stroke="#000" stroke-width="5.2" fill="none"/>
<g>
<text class="b" transform="matrix(0.7770 0 0 0.8210 255.4 1115.3)">0</text>
<text class="b" transform="matrix(0.7770 0 0 0.8210 474.2 1115.3)">5</text>
<text class="b" transform="matrix(0.7770 0 0 0.8210 670.8 1115.3)">10</text>
<text class="b" transform="matrix(0.7770 0 0 0.8210 888.8 1115.3)">15</text>
<text class="b" transform="matrix(0.7770 0 0 0.8210 1109.5 1115.3)">20</text>
<text class="b" transform="matrix(0.7770 0 0 0.8210 1327.4 1115.3)">25</text>
<text class="b" transform="matrix(0.7770 0 0 0.8210 1547.4 1115.3)">30</text>
<text class="b" transform="matrix(0.7770 0 0 0.8210 1765.3 1115.3)">35</text>
<text class="b" transform="matrix(0.7770 0 0 0.8210 1985.2 1115.3)">40</text>
<text class="b" transform="matrix(0.7770 0 0 0.8210 205.9 1049.3)">0</text>
<text class="b" transform="matrix(0.7770 0 0 0.8210 179.5 830.5)">-5</text>
<text class="b" transform="matrix(0.7770 0 0 0.8210 136.7 611.8)">-10</text>
<text class="b" transform="matrix(0.7770 0 0 0.8210 136 393)">-15</text>
<text class="b" transform="matrix(0.7770 0 0 0.8210 136.7 174.3)">-20</text>
</g>
<g>
<text transform="matrix(0.9550 0 0 0.9650 0 1270.2)" x="877.8 947.7 1005.1 1036.6 1099.1">Re(Z)</text>
<text transform="matrix(0.9550 0 0 0.9500 0 1270.2)" x="1158.1">/</text>
<text transform="matrix(0.9300 0 0 0.9400 0 1270.2)" x="1246.6">k<tspan x="1294.5" font-size="107" class="o" dy="0.6">Ω</tspan></text>
<text transform="matrix(0.9500 0 0 0.9500 0 1270.2)" x="1374.7 1424.7">cm<tspan x="1506" font-size="69" dy="-41.4">2</tspan></text>
</g>
<g transform="translate(100.2 821) rotate(-90)">
<text transform="matrix(0.9550 0 0 0.9650 0 0)" x="-9 20.6 103.1 134.6 197.1">Im(Z)</text>
<text transform="matrix(0.9550 0 0 0.9500 0 0)" x="256.1">/</text>
<text transform="matrix(0.9300 0 0 0.9400 0 0)" x="320.3">k<tspan x="368.3" font-size="107" class="o" dy="0.6">Ω</tspan></text>
<text transform="matrix(0.9500 0 0 0.9500 0 0)" x="468 518">cm<tspan x="599.3" font-size="69" dy="-41.4">2</tspan></text>
</g>
<g fill="#000"><rect x="1764.8" y="551.2" width="29.5" height="29.5"/></g>
<g fill="#fff" stroke="#000" stroke-width="3.9"><circle cx="1779.5" cy="648.5" r="14.4"/></g>
<g fill="#000"><polygon points="1779.5,708.6 1759.8,742.2 1799.2,742.2"/></g>
<g fill="#fff" stroke="#000" stroke-width="4.4" stroke-linejoin="miter"><polygon points="1763.7,804.4 1795.3,804.4 1779.5,831.8"/></g>
<g fill="#000"><polygon points="1779.5,875.7 1799.8,896 1779.5,916.3 1759.2,896"/></g>
<g>
<text class="r" transform="matrix(0.6487 0 0 0.6965 1876.3 588.6)">130</text>
<text class="r" transform="matrix(0.6487 0 0 0.6965 1876.3 671.2)">160</text>
<text class="r" transform="matrix(0.6487 0 0 0.6965 1876.3 753.8)">180</text>
<text class="r" transform="matrix(0.6487 0 0 0.6965 1876.3 836.4)">200</text>
<text class="r" transform="matrix(0.6487 0 0 0.6965 1876.3 919)">230</text>
</g>
</svg></body></html>
